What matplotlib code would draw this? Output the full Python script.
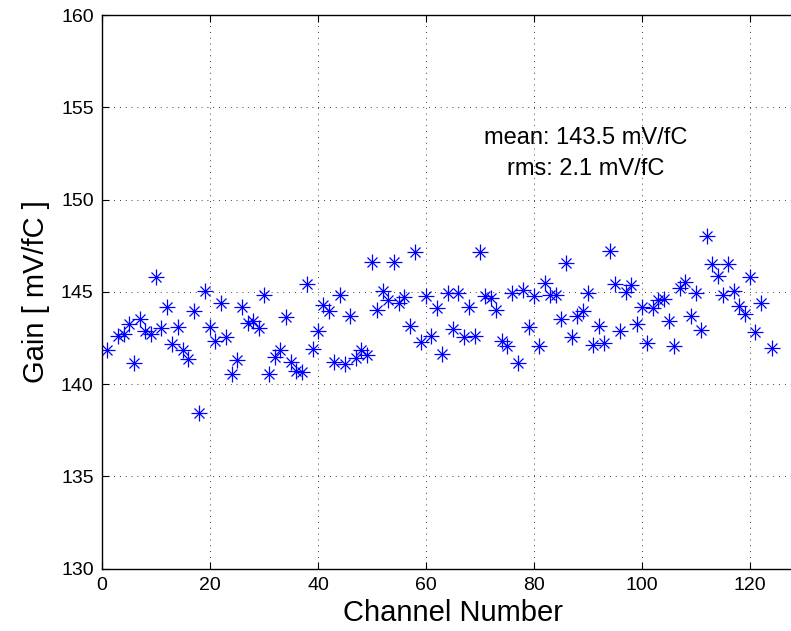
import matplotlib
matplotlib.use("Agg")
import matplotlib.pyplot as plt

# ---------- data ----------
channels = [1, 3, 4, 5, 6, 7, 8, 9, 10,
            11, 12, 13, 14, 15, 16, 17, 18, 19, 20,
            21, 22, 23, 24, 25, 26, 27, 28, 29, 30,
            31, 32, 33, 34, 35, 36, 37, 38, 39, 40,
            41, 42, 43, 44, 45, 46, 47, 48, 49, 50,
            51, 52, 53, 54, 55, 56, 57, 58, 59, 60,
            61, 62, 63, 64, 65, 66, 67, 68, 69, 70,
            71, 72, 73, 74, 75, 76, 77, 78, 79, 80,
            81, 82, 83, 84, 85, 86, 87, 88, 89, 90,
            91, 92, 93, 94, 95, 96, 97, 98, 99, 100,
            101, 102, 103, 104, 105, 106, 107, 108, 109, 110,
            111, 112, 113, 114, 115, 116, 117, 118, 119, 120,
            121, 122, 124]

gain = [141.84, 142.60, 142.74, 143.23, 141.12, 143.50, 142.89, 142.74, 145.78,
        143.03, 144.15, 142.17, 143.10, 141.84, 141.34, 143.95, 138.45, 145.04, 143.07,
        142.35, 144.37, 142.56, 140.52, 141.30, 144.19, 143.29, 143.43, 143.03, 144.80,
        140.55, 141.48, 141.84, 143.65, 141.21, 140.72, 140.67, 145.42, 141.88, 142.87,
        144.26, 143.97, 141.21, 144.82, 141.08, 143.68, 141.39, 141.84, 141.57, 146.61,
        144.04, 145.04, 144.58, 146.61, 144.37, 144.73, 143.14, 147.13, 142.29, 144.77,
        142.63, 144.13, 141.61, 144.96, 142.96, 144.95, 142.53, 144.17, 142.63, 147.13,
        144.77, 144.68, 144.00, 142.35, 142.06, 144.95, 141.16, 145.09, 143.10, 144.77,
        142.06, 145.50, 144.82, 144.82, 143.50, 146.57, 142.53, 143.68, 143.97, 144.95,
        142.11, 143.14, 142.24, 147.20, 145.40, 142.89, 145.00, 145.36, 143.25, 144.15,
        142.24, 144.10, 144.58, 144.60, 143.41, 142.06, 145.18, 145.54, 143.70, 144.91,
        142.92, 148.03, 146.53, 145.87, 144.82, 146.53, 145.05, 144.22, 143.77, 145.78,
        142.80, 144.37, 141.93]

x_ticks = [0, 20, 40, 60, 80, 100, 120]
y_ticks = [130, 135, 140, 145, 150, 155, 160]
stats_lines = ["mean: 143.5 mV/fC", "rms: 2.1 mV/fC"]

plt.rcParams["font.family"] = ["Liberation Sans", "DejaVu Sans"]

fig = plt.figure(figsize=(7.91, 6.31), dpi=100)
# axes runs past the right edge of the picture, like the cropped original
ax = fig.add_axes([102 / 791, 1 - 568.6 / 631, 130 * 5.4 / 791, (568.6 - 15) / 631])

# MATLAB-style asterisk: plus + cross
ax.plot(channels, gain, linestyle="none", marker="+", markersize=11,
        markeredgewidth=0.9, color="blue")
ax.plot(channels, gain, linestyle="none", marker="x", markersize=7.8,
        markeredgewidth=0.9, color="blue")

ax.set_xlim(0, 130)
ax.set_ylim(130, 160)
ax.set_xticks(x_ticks)
ax.set_yticks(y_ticks)

ax.grid(True, color="black", linestyle=(0, (1, 6)), linewidth=0.6)
ax.tick_params(direction="in", length=5, width=0.8, labelsize=14,
               top=True, right=True, pad=6)
for sp in ax.spines.values():
    sp.set_linewidth(1.0)

ax.set_xlabel("Channel Number", fontsize=21, labelpad=4)
ax.set_ylabel("Gain [ mV/fC ]", fontsize=21, labelpad=8)

ax.text(89.5, 153.35, stats_lines[0], ha="center", va="center", fontsize=17)
ax.text(89.5, 151.65, stats_lines[1], ha="center", va="center", fontsize=17)

fig.savefig("out.png", dpi=100)
